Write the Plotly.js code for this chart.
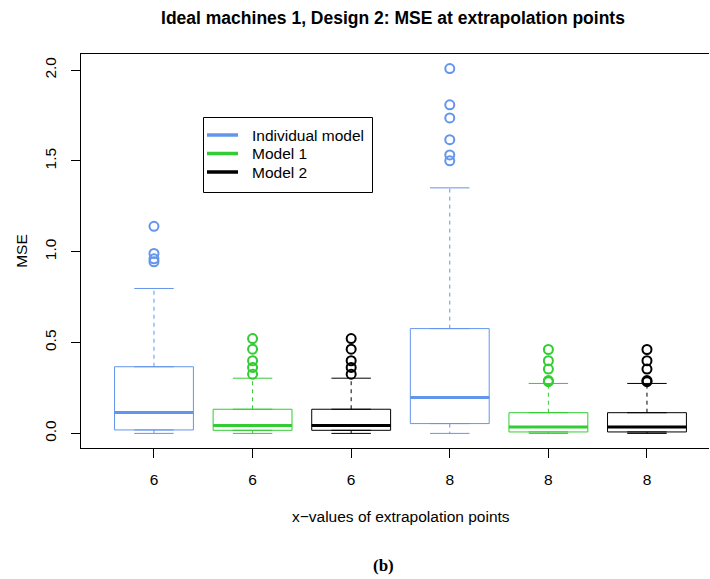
<!DOCTYPE html>
<html>
<head>
<meta charset="utf-8">
<script src="https://cdn.plot.ly/plotly-3.0.1.min.js"></script>
<style>html,body{margin:0;padding:0;background:#fff;}#chart{width:710px;height:579px;}</style>
</head>
<body>
<div id="chart"></div>
<script>
// ---- data ----
const positions = [1, 2, 3, 4, 5, 6];
const tickLabels = ["6", "6", "6", "8", "8", "8"];
const models = ["Individual model", "Model 1", "Model 2", "Individual model", "Model 1", "Model 2"];
const lowerWhisker = [0.0, 0.0, 0.0, 0.0, 0.0, 0.0];
const q1 = [0.019, 0.017, 0.017, 0.054, 0.008, 0.008];
const medians = [0.115, 0.044, 0.044, 0.197, 0.035, 0.035];
const q3 = [0.367, 0.133, 0.133, 0.577, 0.114, 0.114];
const upperWhisker = [0.798, 0.304, 0.304, 1.352, 0.275, 0.275];
const outliers = [
  [1.140, 0.991, 0.961, 0.945],
  [0.522, 0.464, 0.400, 0.363, 0.326],
  [0.522, 0.464, 0.400, 0.363, 0.326],
  [2.009, 1.809, 1.737, 1.617, 1.533, 1.501],
  [0.462, 0.400, 0.354, 0.291, 0.285],
  [0.462, 0.400, 0.354, 0.291, 0.285]
];
const legendNames = ["Individual model", "Model 1", "Model 2"];

// ---- styling ----
const modelColor = {"Individual model": "#6495ED", "Model 1": "#32CD32", "Model 2": "#000000"};
const boxWidth = 0.8, stapleHalf = 0.2;
const FONT = "Liberation Sans, Arial, Helvetica, sans-serif";
const FS = 15.5;
// plot-area pixel geometry (for placing legend / captions in paper coords)
const PL = 81, PW = 628, PB = 448, PH = 394;
const px = v => (v - PL) / PW;
const py = v => (PB - v) / PH;

const traces = [];
positions.forEach((p, i) => {
  const c = modelColor[models[i]];
  traces.push({
    type: "box", x: [p], q1: [q1[i]], median: [medians[i]], q3: [q3[i]],
    lowerfence: [q1[i]], upperfence: [q3[i]],
    width: boxWidth, line: {color: c, width: 1}, fillcolor: "rgba(0,0,0,0)",
    boxpoints: false, showlegend: false, hoverinfo: "skip"
  });
  traces.push({
    type: "scatter", mode: "lines", x: [p - boxWidth / 2, p + boxWidth / 2], y: [medians[i], medians[i]],
    line: {color: c, width: 3}, showlegend: false, hoverinfo: "skip"
  });
  traces.push({
    type: "scatter", mode: "lines", x: [p, p, null, p, p], y: [q3[i], upperWhisker[i], null, q1[i], lowerWhisker[i]],
    line: {color: c, width: 1, dash: "4px,4px"}, showlegend: false, hoverinfo: "skip"
  });
  traces.push({
    type: "scatter", mode: "lines",
    x: [p - stapleHalf, p + stapleHalf, null, p - stapleHalf, p + stapleHalf],
    y: [upperWhisker[i], upperWhisker[i], null, lowerWhisker[i], lowerWhisker[i]],
    line: {color: c, width: 1}, showlegend: false, hoverinfo: "skip"
  });
  traces.push({
    type: "scatter", mode: "markers", x: outliers[i].map(() => p), y: outliers[i],
    marker: {symbol: "circle-open", size: 9, color: c, line: {width: 2, color: c}},
    showlegend: false, hoverinfo: "y"
  });
});

// legend drawn R-style: bordered box, line keys and labels
const shapes = [{
  type: "rect", xref: "paper", yref: "paper",
  x0: px(203.5), x1: px(372.5), y0: py(117.5), y1: py(192.5),
  line: {color: "#000", width: 1}, fillcolor: "#fff", layer: "above"
}];
const annotations = [];
const legendRows = [135, 153.5, 172];
legendNames.forEach((n, k) => {
  shapes.push({
    type: "line", xref: "paper", yref: "paper",
    x0: px(207), x1: px(238), y0: py(legendRows[k]), y1: py(legendRows[k]),
    line: {color: modelColor[n], width: 3.5}, layer: "above"
  });
  annotations.push({
    text: n, xref: "paper", yref: "paper", showarrow: false,
    x: px(250), y: py(legendRows[k]), xanchor: "left", yanchor: "middle",
    font: {family: FONT, size: FS, color: "#000"}
  });
});
annotations.push({
  text: "x\u2212values of extrapolation points", xref: "paper", yref: "paper", showarrow: false,
  x: px(401), y: py(516), xanchor: "center", yanchor: "middle",
  font: {family: FONT, size: FS, color: "#000"}
});
annotations.push({
  text: "<b>(b)</b>", xref: "paper", yref: "paper", showarrow: false,
  x: px(383), y: py(565), xanchor: "center", yanchor: "middle",
  font: {family: "Liberation Serif, Times New Roman, serif", size: 17, color: "#000"}
});

const layout = {
  width: 710, height: 579,
  margin: {l: 81, r: 1, t: 54, b: 131},
  paper_bgcolor: "#ffffff", plot_bgcolor: "#ffffff",
  font: {family: FONT, size: FS, color: "#000"},
  boxmode: "overlay",
  showlegend: false,
  title: {
    text: "<b>Ideal machines 1, Design 2: MSE at extrapolation points</b>",
    font: {family: FONT, size: 17.5, color: "#000"},
    x: 393 / 710, xanchor: "center", xref: "container",
    y: 1 - 18 / 579, yanchor: "middle", yref: "container"
  },
  xaxis: {
    range: [0.26, 6.629], tickmode: "array", tickvals: positions, ticktext: tickLabels,
    showgrid: false, zeroline: false, showline: true, linecolor: "#000", linewidth: 1, mirror: true,
    ticks: "outside", ticklen: 9, tickcolor: "#000", tickfont: {size: FS}, ticklabelstandoff: 8
  },
  yaxis: {
    range: [-0.0804, 2.089], tickmode: "array", tickvals: [0, 0.5, 1, 1.5, 2],
    ticktext: ["0.0", "0.5", "1.0", "1.5", "2.0"], tickangle: -90,
    showgrid: false, zeroline: false, showline: true, linecolor: "#000", linewidth: 1, mirror: false,
    ticks: "outside", ticklen: 9, tickcolor: "#000", tickfont: {size: FS}, ticklabelstandoff: 9,
    title: {text: "MSE", font: {size: FS}, standoff: 10}
  },
  shapes: shapes,
  annotations: annotations
};

Plotly.newPlot("chart", traces, layout, {displayModeBar: false, staticPlot: true});
</script>
</body>
</html>
